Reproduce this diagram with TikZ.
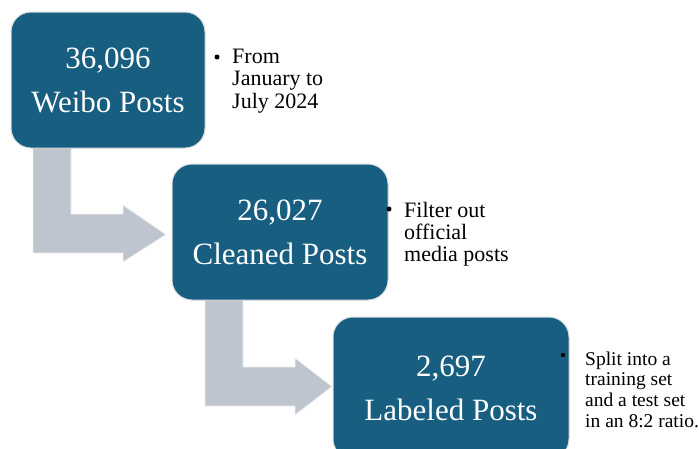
\documentclass[tikz,border=0pt]{standalone}
\usepackage{fontspec}
\setmainfont{Liberation Serif}
\newfontfamily\timesfont{Liberation Serif}
\definecolor{boxblue}{RGB}{23,94,128}
\definecolor{arrowgray}{RGB}{190,197,206}
\definecolor{edgegray}{RGB}{215,218,222}
\tikzset{
  stagebox/.style={draw=edgegray, line width=1pt, fill=boxblue, rounded corners=20pt,
    text=white, align=center, inner sep=0pt, font=\timesfont\fontsize{31}{44}\selectfont},
  bentarrow/.style={fill=arrowgray, draw=white!88!gray, line width=0.8pt},
  dot/.style={circle, fill=black, inner sep=0pt, minimum size=5pt},
  note/.style={anchor=base west, inner sep=0pt, text=black}
}
\begin{document}
\begin{tikzpicture}[x=1pt,y=-1pt]
\useasboundingbox (0,0) rectangle (699,448);
% arrows (drawn first, boxes on top)
\draw[bentarrow] (33,147) -- (71,147) -- (71,214) -- (123,214) -- (123,205) -- (166,234.5)
  -- (123,262) -- (123,253) -- (33,253) -- cycle;
\draw[bentarrow] (205,299) -- (243,299) -- (243,367) -- (295,367) -- (295,358) -- (332,386.5)
  -- (295,415) -- (295,406) -- (205,406) -- cycle;
% boxes
\node[stagebox, minimum width=194pt, minimum height=136pt] (b1) at (108,80) {36,096\\Weibo Posts};
\node[stagebox, minimum width=216pt, minimum height=136pt] (b2) at (280,232) {26,027\\Cleaned Posts};
\node[stagebox, minimum width=236pt, minimum height=142pt] (b3) at (451,388) {2,697\\Labeled Posts};
% notes
\node[dot] (d1) at (217,57) {};
\node[note, font=\timesfont\fontsize{22}{22.5}\selectfont] (n1) at (232,63)
  {\begin{tabular}[t]{@{}l@{}}From\\January to\\July 2024\end{tabular}};
\node[dot] (d2) at (389,209) {};
\node[note, font=\timesfont\fontsize{22}{22}\selectfont] (n2) at (404,217)
  {\begin{tabular}[t]{@{}l@{}}Filter out\\official\\media posts\end{tabular}};
\node[dot, minimum size=4.4pt] (d3) at (563,355) {};
\node[note, font=\timesfont\fontsize{19.5}{20.7}\selectfont] (n3) at (585,365)
  {\begin{tabular}[t]{@{}l@{}}Split into a\\training set\\and a test set\\in an 8:2 ratio.\end{tabular}};
\end{tikzpicture}
\end{document}
